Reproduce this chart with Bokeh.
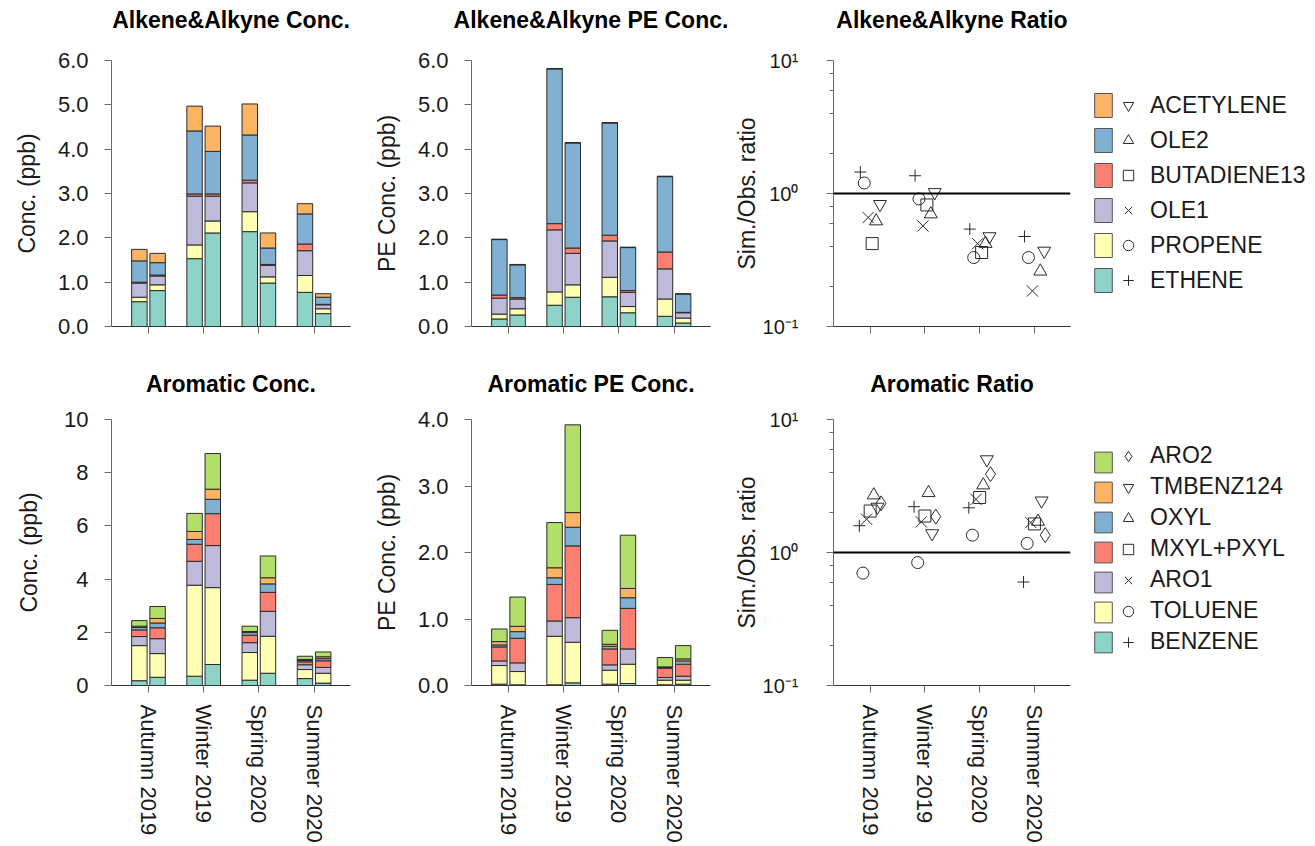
from bokeh.plotting import figure
from bokeh.models import (ColumnDataSource, Range1d, FixedTicker, SingleIntervalTicker,
                          NumeralTickFormatter, Span, Legend, LegendItem, Title)
from bokeh.transform import dodge
from bokeh.layouts import column, row
from bokeh.core.properties import value
from bokeh.embed import file_html
from bokeh.resources import INLINE

NaN = float("nan")

# ---------------------------------------------------------------- data
seasons = ["Autumn 2019", "Winter 2019", "Spring 2020", "Summer 2020"]

alk_species = ["ETHENE", "PROPENE", "OLE1", "BUTADIENE13", "OLE2", "ACETYLENE"]
alk_colors = ["#8DD3C7", "#FFFFB3", "#BEBADA", "#FB8072", "#80B1D3", "#FDB462"]
alk_markers = ["cross", "circle", "x", "square", "triangle", "inverted_triangle"]

aro_species = ["BENZENE", "TOLUENE", "ARO1", "MXYL+PXYL", "OXYL", "TMBENZ124", "ARO2"]
aro_colors = ["#8DD3C7", "#FFFFB3", "#BEBADA", "#FB8072", "#80B1D3", "#FDB462", "#B3DE69"]
aro_markers = ["cross", "circle", "x", "square", "triangle", "inverted_triangle", "diamond"]

# concentrations (ppb): left bar = observed, right bar = simulated
alk_conc_obs = {
    "ETHENE":      [0.56, 1.53, 2.14, 0.77],
    "PROPENE":     [0.10, 0.31, 0.45, 0.38],
    "OLE1":        [0.32, 1.10, 0.65, 0.56],
    "BUTADIENE13": [0.02, 0.05, 0.06, 0.15],
    "OLE2":        [0.48, 1.42, 1.02, 0.68],
    "ACETYLENE":   [0.26, 0.56, 0.70, 0.23],
}
alk_conc_sim = {
    "ETHENE":      [0.81, 2.11, 0.98, 0.29],
    "PROPENE":     [0.13, 0.27, 0.14, 0.11],
    "OLE1":        [0.20, 0.56, 0.26, 0.09],
    "BUTADIENE13": [0.02, 0.05, 0.02, 0.01],
    "OLE2":        [0.28, 0.96, 0.37, 0.16],
    "ACETYLENE":   [0.21, 0.57, 0.34, 0.08],
}
alk_pe_obs = {
    "ETHENE":      [0.17, 0.48, 0.67, 0.23],
    "PROPENE":     [0.11, 0.30, 0.44, 0.39],
    "OLE1":        [0.36, 1.40, 0.82, 0.68],
    "BUTADIENE13": [0.07, 0.14, 0.13, 0.38],
    "OLE2":        [1.25, 3.49, 2.53, 1.70],
    "ACETYLENE":   [0.01, 0.01, 0.01, 0.01],
}
alk_pe_sim = {
    "ETHENE":      [0.26, 0.66, 0.31, 0.08],
    "PROPENE":     [0.14, 0.28, 0.14, 0.11],
    "OLE1":        [0.22, 0.71, 0.32, 0.12],
    "BUTADIENE13": [0.03, 0.12, 0.04, 0.01],
    "OLE2":        [0.74, 2.37, 0.97, 0.41],
    "ACETYLENE":   [0.01, 0.01, 0.01, 0.01],
}
alk_ratio = {
    "ETHENE":      [1.45, 1.36, 0.54, 0.475],
    "PROPENE":     [1.20, 0.91, 0.33, 0.33],
    "OLE1":        [0.66, 0.57, 0.42, 0.185],
    "BUTADIENE13": [0.42, 0.82, 0.36, NaN],
    "OLE2":        [0.62, 0.70, 0.42, 0.26],
    "ACETYLENE":   [0.83, 1.02, 0.475, 0.37],
}

aro_conc_obs = {
    "BENZENE":   [0.18, 0.35, 0.20, 0.26],
    "TOLUENE":   [1.32, 3.42, 1.04, 0.34],
    "ARO1":      [0.34, 0.90, 0.37, 0.18],
    "MXYL+PXYL": [0.25, 0.64, 0.28, 0.11],
    "OXYL":      [0.09, 0.18, 0.10, 0.05],
    "TMBENZ124": [0.05, 0.30, 0.04, 0.04],
    "ARO2":      [0.21, 0.68, 0.20, 0.12],
}
aro_conc_sim = {
    "BENZENE":   [0.31, 0.79, 0.46, 0.09],
    "TOLUENE":   [0.89, 2.89, 1.39, 0.37],
    "ARO1":      [0.56, 1.58, 0.94, 0.22],
    "MXYL+PXYL": [0.41, 1.20, 0.71, 0.25],
    "OXYL":      [0.18, 0.54, 0.32, 0.08],
    "TMBENZ124": [0.17, 0.38, 0.23, 0.07],
    "ARO2":      [0.45, 1.34, 0.82, 0.18],
}
aro_pe_obs = {
    "BENZENE":   [0.02, 0.01, 0.02, 0.01],
    "TOLUENE":   [0.28, 0.73, 0.21, 0.07],
    "ARO1":      [0.07, 0.23, 0.08, 0.04],
    "MXYL+PXYL": [0.21, 0.55, 0.24, 0.14],
    "OXYL":      [0.03, 0.10, 0.04, 0.01],
    "TMBENZ124": [0.05, 0.15, 0.03, 0.01],
    "ARO2":      [0.19, 0.68, 0.21, 0.14],
}
aro_pe_sim = {
    "BENZENE":   [0.01, 0.04, 0.03, 0.02],
    "TOLUENE":   [0.20, 0.61, 0.29, 0.06],
    "ARO1":      [0.13, 0.37, 0.23, 0.06],
    "MXYL+PXYL": [0.37, 1.08, 0.61, 0.18],
    "OXYL":      [0.10, 0.28, 0.16, 0.05],
    "TMBENZ124": [0.08, 0.22, 0.14, 0.03],
    "ARO2":      [0.44, 1.32, 0.80, 0.20],
}
aro_ratio = {
    "BENZENE":   [1.59, 2.21, 2.17, 0.60],
    "TOLUENE":   [0.70, 0.84, 1.35, 1.17],
    "ARO1":      [1.78, 1.70, 2.51, 1.68],
    "MXYL+PXYL": [2.05, 1.88, 2.59, 1.64],
    "OXYL":      [2.70, 2.81, 3.21, 1.71],
    "TMBENZ124": [2.20, 1.39, 5.00, 2.45],
    "ARO2":      [2.34, 1.86, 3.88, 1.35],
}

# ---------------------------------------------------------------- style
FONT = "Liberation Sans"
TXT = "#1a1a1a"
AX = "#6a6a6a"
xpos = list(range(1, len(seasons) + 1))
marker_sizes = {"cross": 12, "circle": 12, "x": 16, "square": 12,
                "triangle": 13, "inverted_triangle": 13, "diamond": 15}

TOP_H, BOT_H = 358, 488


def make_fig(width, bl, br, top_row, title, y_range, ylabel, lab_standoff,
             axlab_standoff, log=False):
    height = TOP_H if top_row else BOT_H
    bt, bb = (60, 32) if top_row else (61, 161)
    p = figure(width=width, height=height, x_range=Range1d(0.33, 4.66),
               y_range=y_range, y_axis_type="log" if log else "linear",
               toolbar_location=None, output_backend="svg",
               min_border_left=bl, min_border_right=br,
               min_border_top=bt, min_border_bottom=bb)
    # spacer between title and frame, then the title itself
    p.add_layout(Title(text=" ", text_font_size="12px",
                       standoff=12 if top_row else 7), "above")
    p.add_layout(Title(text=title, text_font=FONT, text_font_size="23px",
                       text_font_style="bold", text_color="black",
                       align="center", standoff=0), "above")
    p.outline_line_color = None
    p.grid.visible = False

    xa = p.xaxis[0]
    xa.ticker = FixedTicker(ticks=xpos)
    if top_row:
        xa.major_label_overrides = {x: "" for x in xpos}
    else:
        xa.major_label_overrides = {x: s for x, s in zip(xpos, seasons)}
        xa.major_label_orientation = "vertical"
    xa.major_label_text_font = FONT
    xa.major_label_text_font_size = "22px"
    xa.major_label_text_color = TXT
    xa.major_label_standoff = 12
    xa.axis_line_color = "#333333"
    xa.major_tick_line_color = AX
    xa.major_tick_out = 7
    xa.major_tick_in = 0
    xa.minor_tick_line_color = None

    ya = p.yaxis[0]
    ya.axis_label = ylabel
    ya.axis_label_text_font = FONT
    ya.axis_label_text_font_size = "23px"
    ya.axis_label_text_font_style = "normal"
    ya.axis_label_text_color = TXT
    ya.axis_label_standoff = axlab_standoff
    ya.major_label_text_font = FONT
    ya.major_label_text_font_size = "22px"
    ya.major_label_text_color = TXT
    ya.major_label_standoff = lab_standoff
    ya.axis_line_color = AX
    ya.major_tick_line_color = AX
    ya.major_tick_out = 7
    ya.major_tick_in = 0
    if log:
        ya.ticker = FixedTicker(ticks=[0.1, 1, 10],
                                minor_ticks=[0.2, 0.4, 0.6, 0.8, 2, 4, 6, 8])
        ya.major_label_overrides = {0.1: "10\u207b\u00b9", 1: "10\u2070", 10: "10\u00b9"}
        ya.major_label_text_font_size = "20px"
        ya.minor_tick_line_color = AX
        ya.minor_tick_out = 4
        ya.minor_tick_in = 0
    else:
        ya.minor_tick_line_color = None
    return p


def add_bars(p, species, colors, obs, sim):
    data = {"x": xpos}
    for i, sp in enumerate(species):
        data[f"o{i}"] = obs[sp]
        data[f"s{i}"] = sim[sp]
    src = ColumnDataSource(data)
    for prefix, off in (("o", -0.165), ("s", 0.165)):
        p.vbar_stack([f"{prefix}{i}" for i in range(len(species))],
                     x=dodge("x", off, range=p.x_range), width=0.28,
                     fill_color=colors, line_color="#2b2b2b", line_width=1,
                     source=src)
    return src


def add_ratio(p, species, markers, ratio, step):
    data = {"x": xpos}
    for i, sp in enumerate(species):
        data[f"r{i}"] = ratio[sp]
    src = ColumnDataSource(data)
    n = len(species)
    for i in range(n):
        off = (i - (n - 1) / 2) * step
        p.scatter(x=dodge("x", off, range=p.x_range), y=f"r{i}", source=src,
                  marker=markers[i], size=marker_sizes[markers[i]],
                  fill_color=None, line_color="#2a2a2a", line_width=1)
    p.add_layout(Span(location=1, dimension="width", line_color="black",
                      line_width=2))
    return src


def make_legend_fig(top_row, species, colors, markers, bar_src, ratio_src):
    height = TOP_H if top_row else BOT_H
    bt, bb = (60, 32) if top_row else (61, 161)
    lg = figure(width=235, height=height, toolbar_location=None,
                output_backend="svg", x_axis_location=None,
                y_axis_location=None, min_border_left=0, min_border_right=0,
                min_border_top=bt, min_border_bottom=bb)
    lg.outline_line_color = None
    lg.grid.visible = False
    gh, sp, vy = (30, 5, 31) if top_row else (26, 4, 30)
    items_a, items_b = [], []
    for i in reversed(range(len(species))):
        ra = lg.vbar(x="x", top=f"o{i}", width=0.5, source=bar_src,
                     fill_color=colors[i], line_color="#555555", line_width=1,
                     visible=False)
        rb = lg.scatter(x="x", y=f"r{i}", source=ratio_src, marker=markers[i],
                        fill_color=None, line_color="#2a2a2a", line_width=1,
                        visible=False)
        items_a.append(LegendItem(label=value(" "), renderers=[ra]))
        items_b.append(LegendItem(label=value(species[i]), renderers=[rb]))
    common = dict(spacing=sp, padding=0, margin=0, glyph_height=gh,
                  background_fill_alpha=0, border_line_color=None,
                  label_text_font=FONT, label_text_font_size="23px",
                  label_text_color=TXT)
    la = Legend(items=items_a, location=(12, vy), glyph_width=22,
                label_standoff=0, **common)
    lb = Legend(items=items_b, location=(35, vy), glyph_width=26,
                label_standoff=9, **common)
    lg.add_layout(la)
    lg.add_layout(lb)
    return lg


# ---------------------------------------------------------------- figures
f1 = make_fig(358, 111, 8, True, "Alkene&Alkyne Conc.", Range1d(0, 6),
              "Conc. (ppb)", 16, 15)
f1.yaxis[0].ticker = SingleIntervalTicker(interval=1, num_minor_ticks=0)
f1.yaxis[0].formatter = NumeralTickFormatter(format="0.0")
s1 = add_bars(f1, alk_species, alk_colors, alk_conc_obs, alk_conc_sim)

f2 = make_fig(372, 113, 20, True, "Alkene&Alkyne PE Conc.", Range1d(0, 6),
              "PE Conc. (ppb)", 16, 15)
f2.yaxis[0].ticker = SingleIntervalTicker(interval=1, num_minor_ticks=0)
f2.yaxis[0].formatter = NumeralTickFormatter(format="0.0")
add_bars(f2, alk_species, alk_colors, alk_pe_obs, alk_pe_sim)

f3 = make_fig(350, 101, 10, True, "Alkene&Alkyne Ratio", Range1d(0.1, 10),
              "Sim./Obs. ratio", 28, 0, log=True)
r3 = add_ratio(f3, alk_species, alk_markers, alk_ratio, 0.072)

lg1 = make_legend_fig(True, alk_species, alk_colors, alk_markers, s1, r3)

f4 = make_fig(358, 111, 8, False, "Aromatic Conc.", Range1d(0, 10),
              "Conc. (ppb)", 16, 19)
f4.yaxis[0].ticker = SingleIntervalTicker(interval=2, num_minor_ticks=0)
f4.yaxis[0].formatter = NumeralTickFormatter(format="0")
s4 = add_bars(f4, aro_species, aro_colors, aro_conc_obs, aro_conc_sim)

f5 = make_fig(372, 113, 20, False, "Aromatic PE Conc.", Range1d(0, 4),
              "PE Conc. (ppb)", 16, 15)
f5.yaxis[0].ticker = SingleIntervalTicker(interval=1, num_minor_ticks=0)
f5.yaxis[0].formatter = NumeralTickFormatter(format="0.0")
add_bars(f5, aro_species, aro_colors, aro_pe_obs, aro_pe_sim)

f6 = make_fig(350, 101, 10, False, "Aromatic Ratio", Range1d(0.1, 10),
              "Sim./Obs. ratio", 28, 0, log=True)
r6 = add_ratio(f6, aro_species, aro_markers, aro_ratio, 0.066)

lg2 = make_legend_fig(False, aro_species, aro_colors, aro_markers, s4, r6)

layout = column(row(f1, f2, f3, lg1), row(f4, f5, f6, lg2))

open("out.html", "w").write(file_html(layout, INLINE))
